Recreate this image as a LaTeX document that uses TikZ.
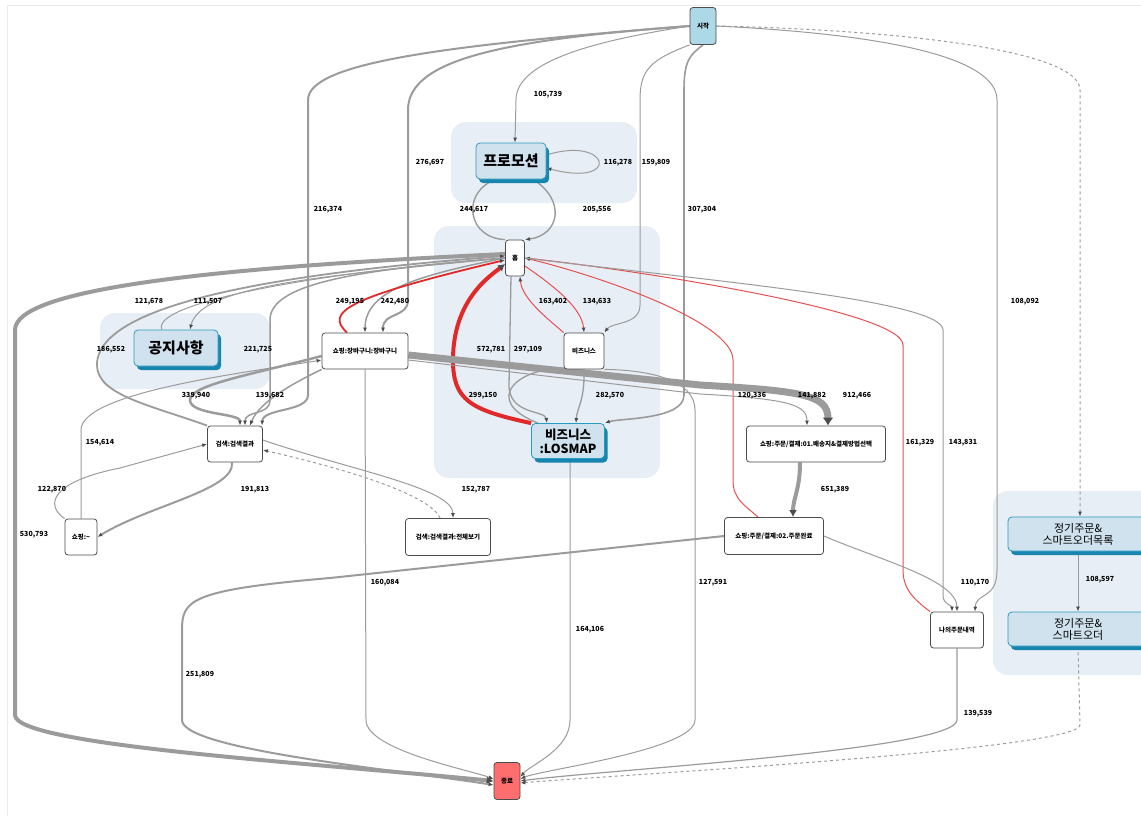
\documentclass[tikz,border=0pt]{standalone}
\usepackage{fontspec}
\setmainfont{Noto Sans CJK KR}
\usetikzlibrary{arrows.meta,shadows}
\pgfdeclarelayer{grp}
\pgfdeclarelayer{edge}
\pgfsetlayers{grp,edge,main}
\definecolor{grpbg}{HTML}{E8EEF5}
\definecolor{flow}{HTML}{9B9B9B}
\definecolor{hotred}{HTML}{E02A2A}
\definecolor{softred}{HTML}{E55050}
\definecolor{hotfill}{HTML}{D0E2EE}
\definecolor{hotedge}{HTML}{2A9BC0}
\definecolor{hotshadow}{HTML}{1786AE}
\definecolor{startblue}{HTML}{ADD8E6}
\definecolor{endred}{HTML}{FF6E6E}
\tikzset{
  pg/.style={draw=black!70, fill=white, rounded corners=3pt, line width=0.8pt,
    minimum height=36pt, inner sep=2pt, font=\bfseries\fontsize{6.5}{8}\selectfont},
  hot/.style={draw=hotedge, fill=hotfill, rounded corners=4pt, line width=0.8pt,
    inner sep=2pt, align=center,
    drop shadow={shadow xshift=3pt, shadow yshift=-4pt, fill=hotshadow, opacity=1}},
  term/.style={pg, minimum width=26pt, minimum height=37pt},
  flw/.style={draw=flow, line width=1pt, ->},
  rd/.style={flw, draw=softred},
  lbl/.style={font=\bfseries\fontsize{7}{8}\selectfont, inner sep=0pt},
  grpbox/.style={fill=grpbg, rounded corners=15pt},
  >={Latex[length=5pt,width=4pt,color=black!70]}
}
\begin{document}
\begin{tikzpicture}[x=1pt,y=-1pt]
  \useasboundingbox (0,0) rectangle (1141,816);
  \draw[black!8] (7,816) -- (7,5) -- (1141,5);

  % groups
  \begin{pgfonlayer}{grp}
    \fill[grpbox] (451,122) rectangle (637,203);
    \fill[grpbox] (434,226) rectangle (660,478);
    \fill[grpbox] (100,313) rectangle (270,389);
    \fill[grpbox] (993,491) rectangle (1170,675);
  \end{pgfonlayer}

  % pages
  \node[term, fill=startblue] (start) at (703,26) {시작};
  \node[pg, minimum width=19pt] (home) at (515,258) {홈};
  \node[hot, minimum width=70pt, minimum height=36pt, font=\bfseries\fontsize{15}{16}\selectfont] (promo) at (511,161) {프로모션};
  \node[pg, minimum width=40pt] (biz) at (584,351) {비즈니스};
  \node[hot, minimum width=73pt, minimum height=35pt, font=\bfseries\fontsize{12.5}{14}\selectfont] (losmap) at (568,441) {비즈니스\\:LOSMAP};
  \node[hot, minimum width=84pt, minimum height=36pt, font=\bfseries\fontsize{15}{16}\selectfont] (notice) at (176,348) {공지사항};
  \node[pg, minimum width=86pt] (cart) at (365,351) {쇼핑:장바구니:장바구니};
  \node[pg, minimum width=55pt] (sres) at (235,444) {검색:검색결과};
  \node[pg, minimum width=32pt] (shop) at (81,537) {쇼핑:\textasciitilde};
  \node[pg, minimum width=85pt, minimum height=37pt] (sall) at (448,537) {검색:검색결과:전체보기};
  \node[pg, minimum width=139pt] (ord1) at (816,444) {쇼핑:주문/결제:01.배송지\&결제방법선택};
  \node[pg, minimum width=99pt, minimum height=37pt] (ord2) at (774,536) {쇼핑:주문/결제:02.주문완료};
  \node[pg, minimum width=53pt] (myord) at (957,630) {나의주문내역};
  \node[hot, minimum width=140pt, minimum height=34pt, font=\fontsize{11}{12}\selectfont] (reglist) at (1078,534) {정기주문\&\\스마트오더목록};
  \node[hot, minimum width=140pt, minimum height=34pt, font=\fontsize{11}{12}\selectfont] (regord) at (1078,629) {정기주문\&\\스마트오더};
  \node[term, fill=endred] (end) at (507,781) {종료};

  \begin{pgfonlayer}{edge}
    % from start
    \draw[flw, line width=2pt] (start.west) .. controls (500,40) and (408,60) .. (408,110) -- (408,300) .. controls (408,318) and (383,312) .. ([xshift=18pt]cart.north);
    \draw[flw, line width=2pt] (start.west) .. controls (450,45) and (308,62) .. (308,100) -- (308,395) .. controls (308,412) and (263,408) .. ([xshift=27pt]sres.north);
    \draw[flw] (start.west) .. controls (600,40) and (516,60) .. (516,100) -- ([xshift=4pt]promo.north);
    \draw[flw] (start.south west) .. controls (650,60) and (640,70) .. (640,100) -- (640,305) .. controls (640,325) and (612,322) .. (biz.north east);
    \draw[flw, line width=1.6pt] (start.south) .. controls (690,55) and (684,60) .. (684,90) -- (684,395) .. controls (684,420) and (620,418) .. (losmap.north east);
    \draw[flw] (start.east) .. controls (900,35) and (997,60) .. (997,100) -- (997,570) .. controls (997,600) and (976,592) .. ([xshift=18pt]myord.north);
    \draw[flw, dashed] (start.east) .. controls (900,30) and (1080,50) .. (1080,90) -- ([xshift=2pt]reglist.north);
    % promo
    \draw[flw] ([yshift=6pt]promo.east) .. controls (610,135) and (622,188) .. ([yshift=-7pt]promo.east);
    \draw[flw, line width=1.4pt] (home.north west) .. controls (468,238) and (462,196) .. ([xshift=-16pt]promo.south);
    \draw[flw, line width=1.4pt] ([xshift=22pt]promo.south) .. controls (566,200) and (560,235) .. (home.north east);
    % home, left side
    \draw[flw, line width=4pt, -{Latex[length=7pt,width=8pt,color=black!70]}] ([yshift=4pt]home.west) .. controls (200,268) and (15,290) .. (15,330) -- (15,715) .. controls (15,745) and (300,762) .. (end.west);
    \draw[flw, line width=1.8pt] (sres.north west) .. controls (150,405) and (97,395) .. (97,365) .. controls (97,300) and (300,272) .. ([yshift=2pt]home.west);
    \draw[flw] ([xshift=-14pt]notice.north) .. controls (150,305) and (300,274) .. (home.west);
    \draw[flw] (home.west) .. controls (320,276) and (200,286) .. ([xshift=14pt]notice.north);
    \draw[flw, line width=1.5pt] (home.west) .. controls (350,270) and (270,285) .. (270,320) -- (270,400) .. controls (270,416) and (245,410) .. ([xshift=10pt]sres.north);
    \draw[flw, line width=1.5pt] (home.west) .. controls (420,275) and (365,290) .. (cart.north);
    \draw[rd, draw=hotred, line width=1.8pt] ([xshift=-18pt]cart.north) .. controls (325,312) and (345,298) .. ([yshift=-2pt]home.west);
    % home, inside
    \draw[rd, draw=hotred, line width=4pt, -{Latex[length=7pt,width=8pt,color=black!70]}] (losmap.north west) .. controls (470,410) and (453,400) .. (453,360) .. controls (453,300) and (490,276) .. ([yshift=-6pt]home.west);
    \draw[flw, line width=1.3pt] ([xshift=-4pt]home.south) -- (509,385) .. controls (509,415) and (545,410) .. ([xshift=-21pt]losmap.north);
    \draw[flw, line width=1.3pt] ([xshift=-30pt]losmap.north) .. controls (480,400) and (520,368) .. (biz.south west);
    \draw[flw, line width=1.3pt] (biz.south) .. controls (585,400) and (577,408) .. ([xshift=8pt]losmap.north);
    \draw[rd] ([yshift=-8pt]home.east) .. controls (560,290) and (582,310) .. (biz.north);
    \draw[rd] (biz.north west) .. controls (552,322) and (522,300) .. ([xshift=5pt]home.south);
    % home, right side
    \draw[rd] ([xshift=-16pt]ord2.north) .. controls (745,505) and (733,500) .. (733,480) -- (733,360) .. controls (733,322) and (600,276) .. (home.east);
    \draw[rd] (myord.north west) .. controls (915,600) and (903,590) .. (903,570) -- (903,345) .. controls (903,310) and (620,268) .. (home.east);
    \draw[flw] (home.east) .. controls (700,280) and (943,300) .. (943,330) -- (943,595) .. controls (943,605) and (952,605) .. ([xshift=-5pt]myord.north);
    % shopping
    \draw[flw, line width=7pt, -{Latex[length=8pt,width=11pt,color=black!70]}] ([yshift=-4pt]cart.east) -- (700,385) .. controls (800,391) and (828,394) .. ([xshift=12pt]ord1.north);
    \draw[flw] ([yshift=-9pt]cart.east) -- (700,394) .. controls (790,399) and (807,405) .. ([xshift=-9pt]ord1.north);
    \draw[flw, line width=4pt, -{Latex[length=7pt,width=8pt,color=black!70]}] ([xshift=-16pt]ord1.south) .. controls (800,490) and (793,498) .. ([xshift=19pt]ord2.north);
    \draw[flw] (ord2.east) .. controls (880,560) and (957,580) .. (myord.north);
    \draw[flw, line width=2.5pt] ([yshift=-5pt]cart.west) .. controls (250,375) and (190,385) .. (190,400) .. controls (190,415) and (240,413) .. ([xshift=5pt]sres.north);
    \draw[flw, line width=1.5pt] (cart.south west) .. controls (300,380) and (260,400) .. ([xshift=15pt]sres.north);
    \draw[flw] (shop.north) -- (81,430) .. controls (81,392) and (250,372) .. ([yshift=-9pt]cart.west);
    \draw[flw] (shop.north west) .. controls (45,505) and (50,482) .. (120,468) -- (sres.west);
    \draw[flw, line width=2pt] ([xshift=-3pt]sres.south) .. controls (235,490) and (150,505) .. (shop.east);
    \draw[flw] ([yshift=4pt]sres.east) .. controls (350,470) and (453,488) .. ([xshift=5pt]sall.north);
    \draw[flw, dashed] ([xshift=-8pt]sall.north) .. controls (430,495) and (350,470) .. ([yshift=-6pt]sres.east);
    % into end
    \draw[flw, line width=2pt] (ord2.west) -- (330,578) .. controls (190,590) and (182,600) .. (182,630) -- (182,720) .. controls (182,750) and (400,770) .. ([yshift=-4pt]end.west);
    \draw[flw] (cart.south) -- (366,720) .. controls (366,750) and (470,770) .. ([yshift=2pt]end.west);
    \draw[flw] ([xshift=2pt]losmap.south) -- (570,720) .. controls (570,750) and (530,765) .. ([yshift=4pt]end.east);
    \draw[flw] (biz.south east) .. controls (650,370) and (695,380) .. (695,410) -- (695,720) .. controls (695,750) and (540,770) .. ([yshift=2pt]end.east);
    \draw[flw, line width=1.2pt] (myord.south) -- (957,720) .. controls (957,750) and (600,770) .. (end.east);
    \draw[flw] (reglist.south) -- (regord.north);
    \draw[flw, dashed] (regord.south) -- (1080,725) .. controls (1080,750) and (600,776) .. ([yshift=-2pt]end.east);
  \end{pgfonlayer}

  % counts
  \path (548,95) node[lbl]{105,739};
  \path (430,163) node[lbl]{276,697};
  \path (618,163) node[lbl]{116,278};
  \path (656,163) node[lbl]{159,809};
  \path (328,210) node[lbl]{216,374};
  \path (474,210) node[lbl]{244,617};
  \path (597,210) node[lbl]{205,556};
  \path (702,210) node[lbl]{307,304};
  \path (149,302) node[lbl]{121,678};
  \path (208,302) node[lbl]{111,507};
  \path (350,302) node[lbl]{249,195};
  \path (395,302) node[lbl]{242,480};
  \path (553,302) node[lbl]{163,402};
  \path (597,302) node[lbl]{134,633};
  \path (1025,302) node[lbl]{108,092};
  \path (111,350) node[lbl]{186,552};
  \path (258,350) node[lbl]{221,725};
  \path (491,350) node[lbl]{572,781};
  \path (528,350) node[lbl]{297,109};
  \path (196,396) node[lbl]{339,940};
  \path (270,396) node[lbl]{139,682};
  \path (483,396) node[lbl]{299,150};
  \path (610,396) node[lbl]{282,570};
  \path (752,396) node[lbl]{120,336};
  \path (812,396) node[lbl]{141,882};
  \path (857,396) node[lbl]{912,466};
  \path (100,443) node[lbl]{154,614};
  \path (920,443) node[lbl]{161,329};
  \path (963,443) node[lbl]{143,831};
  \path (52,490) node[lbl]{122,870};
  \path (255,490) node[lbl]{191,813};
  \path (476,490) node[lbl]{152,787};
  \path (835,490) node[lbl]{651,389};
  \path (34,535) node[lbl]{530,793};
  \path (385,583) node[lbl]{160,084};
  \path (713,583) node[lbl]{127,591};
  \path (975,583) node[lbl]{110,170};
  \path (1100,580) node[lbl]{108,597};
  \path (590,630) node[lbl]{164,106};
  \path (200,675) node[lbl]{251,809};
  \path (978,714) node[lbl]{139,539};
\end{tikzpicture}
\end{document}
